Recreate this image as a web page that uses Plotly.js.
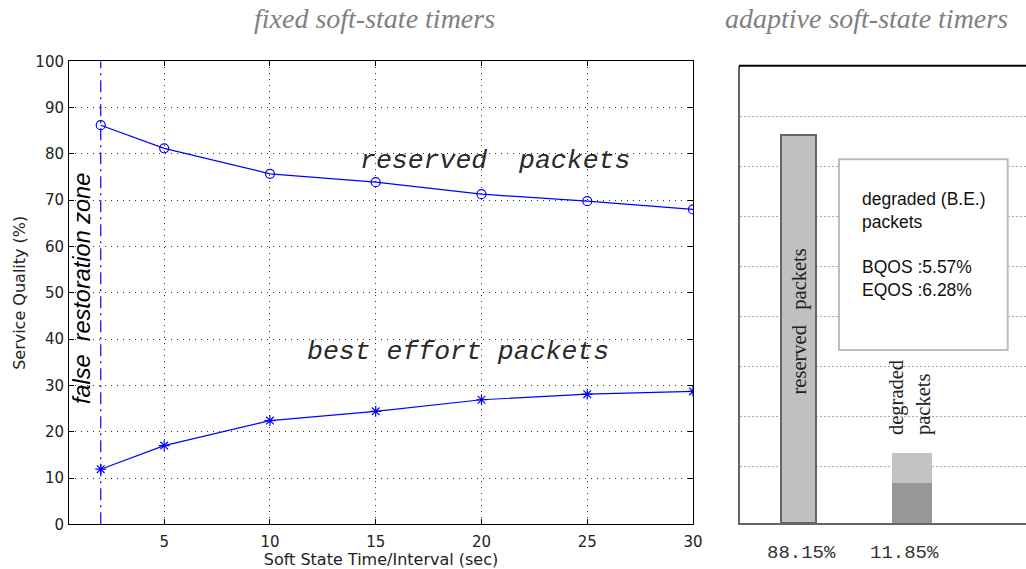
<!DOCTYPE html>
<html>
<head>
<meta charset="utf-8">
<script src="https://cdn.plot.ly/plotly-3.0.1.min.js"></script>
<style>
  html, body { margin: 0; padding: 0; background: #fff; }
  #chart { width: 1026px; height: 569px; }
</style>
</head>
<body>
<div id="chart"></div>
<script>
// ---- data ----
const intervals = [2, 5, 10, 15, 20, 25, 30];
const reservedQuality = [86.2, 81.2, 75.7, 73.9, 71.3, 69.8, 68.0];
const bestEffortQuality = [11.9, 17.0, 22.4, 24.4, 26.9, 28.1, 28.7];
const restorationX = 2;
const xTicks = [5, 10, 15, 20, 25, 30];
const yTicks = [0, 10, 20, 30, 40, 50, 60, 70, 80, 90, 100];

const barCategories = ['reserved', 'degraded'];
const reservedBarHeight = [77.7, null];     // drawn height (schematic)
const degradedLowerHeight = [null, 8.1];    // darker lower part
const degradedUpperHeight = [null, 5.9];    // lighter upper part
const shareLabels = ['88.15%', '11.85%'];
const bqosShare = '5.57%';
const eqosShare = '6.28%';

// ---- helpers: pixel -> paper ----
const W = 1026, H = 569;
const fx = p => p / W;
const fy = p => 1 - p / H;

const blue = '#0000ff';
const tickFont = { family: 'DejaVu Sans, sans-serif', size: 15, color: '#222' };

function note(text, px, py, font, extra) {
  return Object.assign({
    text: text, xref: 'paper', yref: 'paper', x: fx(px), y: fy(py),
    xanchor: 'center', yanchor: 'middle', showarrow: false, font: font
  }, extra || {});
}

const traces = [
  {
    type: 'scatter', mode: 'lines', x: [restorationX, restorationX], y: [yTicks[0], yTicks[yTicks.length - 1]],
    line: { color: blue, width: 1.2, dash: '12px,5px,2px,5px' }, xaxis: 'x', yaxis: 'y', showlegend: false
  },
  {
    type: 'scatter', mode: 'lines+markers', x: intervals, y: reservedQuality,
    line: { color: blue, width: 1.2 },
    marker: { symbol: 'circle-open', size: 9, color: blue, line: { width: 1.2, color: blue } },
    xaxis: 'x', yaxis: 'y', showlegend: false
  },
  {
    type: 'scatter', mode: 'lines+markers', x: intervals, y: bestEffortQuality,
    line: { color: blue, width: 1.2 },
    marker: { symbol: 'asterisk-open', size: 9, color: blue, line: { width: 1.2, color: blue } },
    xaxis: 'x', yaxis: 'y', showlegend: false
  },
  {
    type: 'bar', x: barCategories, y: reservedBarHeight, width: 0.31,
    marker: { color: '#c0c0c0', line: { color: '#666', width: 2 } },
    xaxis: 'x2', yaxis: 'y2', showlegend: false
  },
  {
    type: 'bar', x: barCategories, y: degradedLowerHeight, width: 0.354,
    marker: { color: '#979797', line: { width: 0 } },
    xaxis: 'x2', yaxis: 'y2', showlegend: false
  },
  {
    type: 'bar', x: barCategories, y: degradedUpperHeight, width: 0.354,
    marker: { color: '#c2c2c2', line: { width: 0 } },
    xaxis: 'x2', yaxis: 'y2', showlegend: false
  }
];

const layout = {
  width: W, height: H,
  margin: { l: 0, r: 0, t: 0, b: 0 },
  paper_bgcolor: '#fff', plot_bgcolor: 'rgba(0,0,0,0)',
  hovermode: false,
  barmode: 'stack',
  showlegend: false,
  xaxis: {
    domain: [fx(69), fx(693)], range: [0.5, 30], anchor: 'y',
    tickmode: 'array', tickvals: xTicks, ticktext: xTicks.map(String),
    ticks: 'inside', ticklen: 5, tickcolor: '#000', mirror: 'ticks',
    showline: true, linecolor: '#000', linewidth: 1,
    showgrid: true, gridcolor: '#333', griddash: '1px,5px', gridwidth: 1,
    zeroline: false, tickfont: tickFont, ticklabelstandoff: 4,
    title: { text: 'Soft State Time/Interval (sec)', font: { family: 'DejaVu Sans, sans-serif', size: 16, color: '#222' }, standoff: 3 }
  },
  yaxis: {
    domain: [fy(524.3), fy(61.3)], range: [0, 100], anchor: 'x',
    tickmode: 'array', tickvals: yTicks, ticktext: yTicks.map(String),
    ticks: 'inside', ticklen: 5, tickcolor: '#000', mirror: 'ticks',
    showline: true, linecolor: '#000', linewidth: 1,
    showgrid: true, gridcolor: '#333', griddash: '1px,5px', gridwidth: 1,
    zeroline: false, tickfont: tickFont, ticklabelstandoff: 1,
    title: { text: 'Service Quality (%)', font: { family: 'DejaVu Sans, sans-serif', size: 16, color: '#222' }, standoff: 5 }
  },
  xaxis2: {
    domain: [fx(740), 1], anchor: 'y2', type: 'category',
    categoryorder: 'array', categoryarray: barCategories,
    range: [-0.518, 2.013],
    showline: true, linecolor: '#666', linewidth: 2,
    showticklabels: false, ticks: '', showgrid: false, zeroline: false
  },
  yaxis2: {
    domain: [fy(523.3), fy(65.7)], anchor: 'x2', range: [0, 91.5],
    tickmode: 'array', tickvals: [11.3, 21.3, 31.3, 41.3, 51.3, 61.3, 71.3, 81.3],
    showgrid: true, gridcolor: '#aaa', griddash: '2px,2px', gridwidth: 1,
    showline: true, linecolor: '#666', linewidth: 2,
    showticklabels: false, ticks: '', zeroline: false
  },
  shapes: [
    { type: 'line', xref: 'paper', yref: 'paper', x0: fx(739), x1: 1, y0: fy(65.7), y1: fy(65.7), line: { color: '#000', width: 2 } },
    { type: 'rect', xref: 'paper', yref: 'paper', x0: fx(839), x1: fx(1007.7), y0: fy(350), y1: fy(159.3),
      line: { color: '#bdbdbd', width: 2 }, fillcolor: '#fff' }
  ],
  annotations: [
    note('fixed soft-state timers', 374, 19, { family: 'Liberation Serif, serif', size: 28, color: '#808080', style: 'italic' }),
    note('adaptive soft-state timers', 866, 19, { family: 'Liberation Serif, serif', size: 28, color: '#808080', style: 'italic' }),
    note('reserved  packets', 495, 161, { family: 'Liberation Mono, monospace', size: 26.5, color: '#2a2a2a', style: 'italic' }),
    note('best effort packets', 458, 352, { family: 'Liberation Mono, monospace', size: 26.5, color: '#2a2a2a', style: 'italic' }),
    note('false  restoration zone', 82, 289, { family: 'Liberation Sans, Arial, sans-serif', size: 23.5, color: '#000', style: 'italic' }, { textangle: -90 }),
    note('reserved &nbsp; packets', 798.5, 322, { family: 'Liberation Serif, serif', size: 20.5, color: '#222' }, { textangle: -90 }),
    note('degraded<br>packets', 910, 398, { family: 'Liberation Serif, serif', size: 20.5, color: '#222' }, { textangle: -90, align: 'left' }),
    note('degraded (B.E.)<br>packets<br><br>BQOS :' + bqosShare + '<br>EQOS :' + eqosShare, 860, 244,
      { family: 'Liberation Sans, Arial, sans-serif', size: 17.5, color: '#111' }, { xanchor: 'left', align: 'left' }),
    note(shareLabels[0], 801.5, 553, { family: 'Liberation Mono, monospace', size: 19, color: '#333' }),
    note(shareLabels[1], 904, 553, { family: 'Liberation Mono, monospace', size: 19, color: '#333' })
  ]
};

Plotly.newPlot('chart', traces, layout, { displayModeBar: false, staticPlot: true });
</script>
</body>
</html>
